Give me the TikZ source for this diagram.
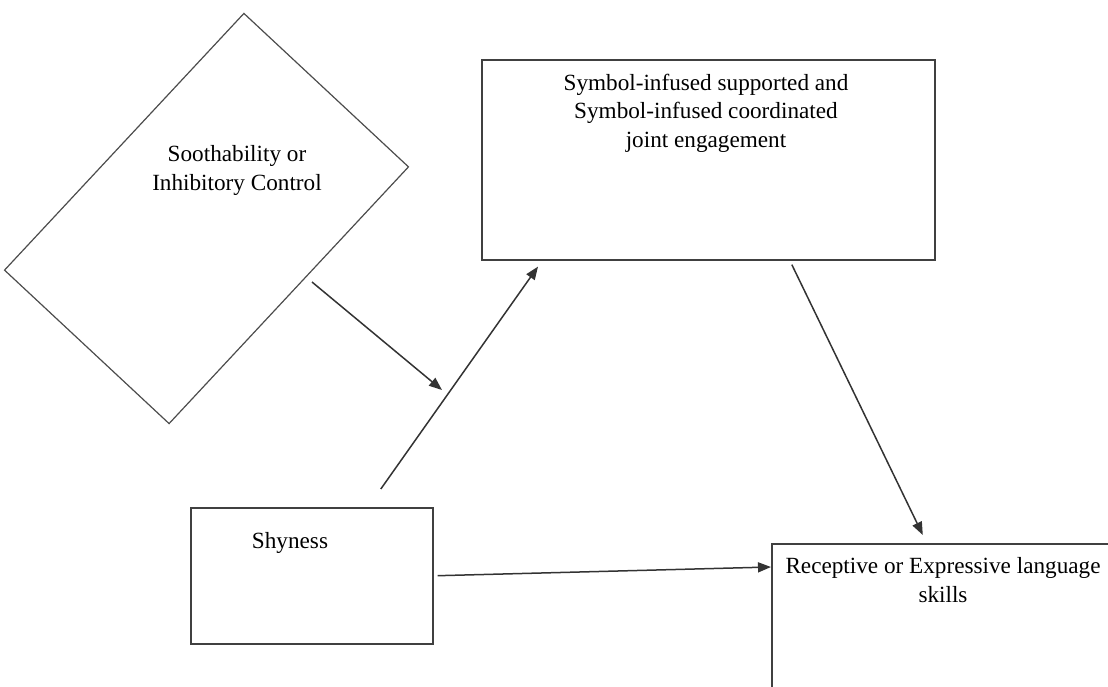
\documentclass[tikz,border=0pt]{standalone}
\usepackage{fontspec}
\setmainfont{Liberation Serif}
\usepackage{tikz}
\usetikzlibrary{arrows.meta}
\usetikzlibrary{calc}
\usetikzlibrary{positioning}
\tikzstyle{box}=[draw=black!75,line width=0.8pt,rectangle,inner sep=0pt,anchor=north west]
\tikzstyle{lbl}=[align=center,inner sep=0pt,anchor=base,font=\fontsize{11.6}{14.2}\selectfont]
\tikzstyle{link}=[draw=black!80,line width=0.75pt,-{Triangle[length=6.5pt,width=5pt]}]

\begin{document}
\begin{tikzpicture}[x=0.5pt,y=-0.5pt]
\useasboundingbox (0,0) rectangle (1108,686);
% boxes
\node [draw=black!70,line width=0.6pt,rectangle,inner sep=0pt,rotate=-43,
  minimum width=112.5pt,minimum height=175.5pt] (sooth) at (206.5,218.5) {};
\node [box,minimum width=226.5pt,minimum height=100pt] (engage) at (481,59) {};
\node [box,minimum width=121pt,minimum height=68pt] (shy) at (190,507) {};
\node [box,minimum width=172.5pt,minimum height=90pt] (lang) at (771,543) {};

% texts (base = last line)
\node [lbl] (soothtxt) at (237,190) {Soothability or\\Inhibitory Control};
\node [lbl] (engagetxt) at (706,147) {Symbol-infused supported and\\Symbol-infused coordinated\\joint engagement};
\node [lbl] (shytxt) at (290,548) {Shyness};
\node [lbl] (langtxt) at (943,602) {Receptive or Expressive language\\skills};

% connectors
\coordinate (soothout) at ($(sooth.center)+(105.5,63.5)$);
\coordinate (shyout) at ($(shy.north)+(69,-18)$);
\coordinate (engagein) at ($(engage.south west)+(57,6)$);
\coordinate (engageout) at ($(engage.south)+(83.5,4)$);
\coordinate (langin) at ($(lang.north)+(-21.5,-8)$);
\coordinate (mod) at (442,390);
\draw [link] (soothout) -- (mod);
\draw [link] (shyout) -- (engagein);
\draw [link] (engageout) -- (langin);
\draw [link,shorten <=2pt] (shy.east) -- ($(lang.north west)+(0,24)$);
\end{tikzpicture}
\end{document}
